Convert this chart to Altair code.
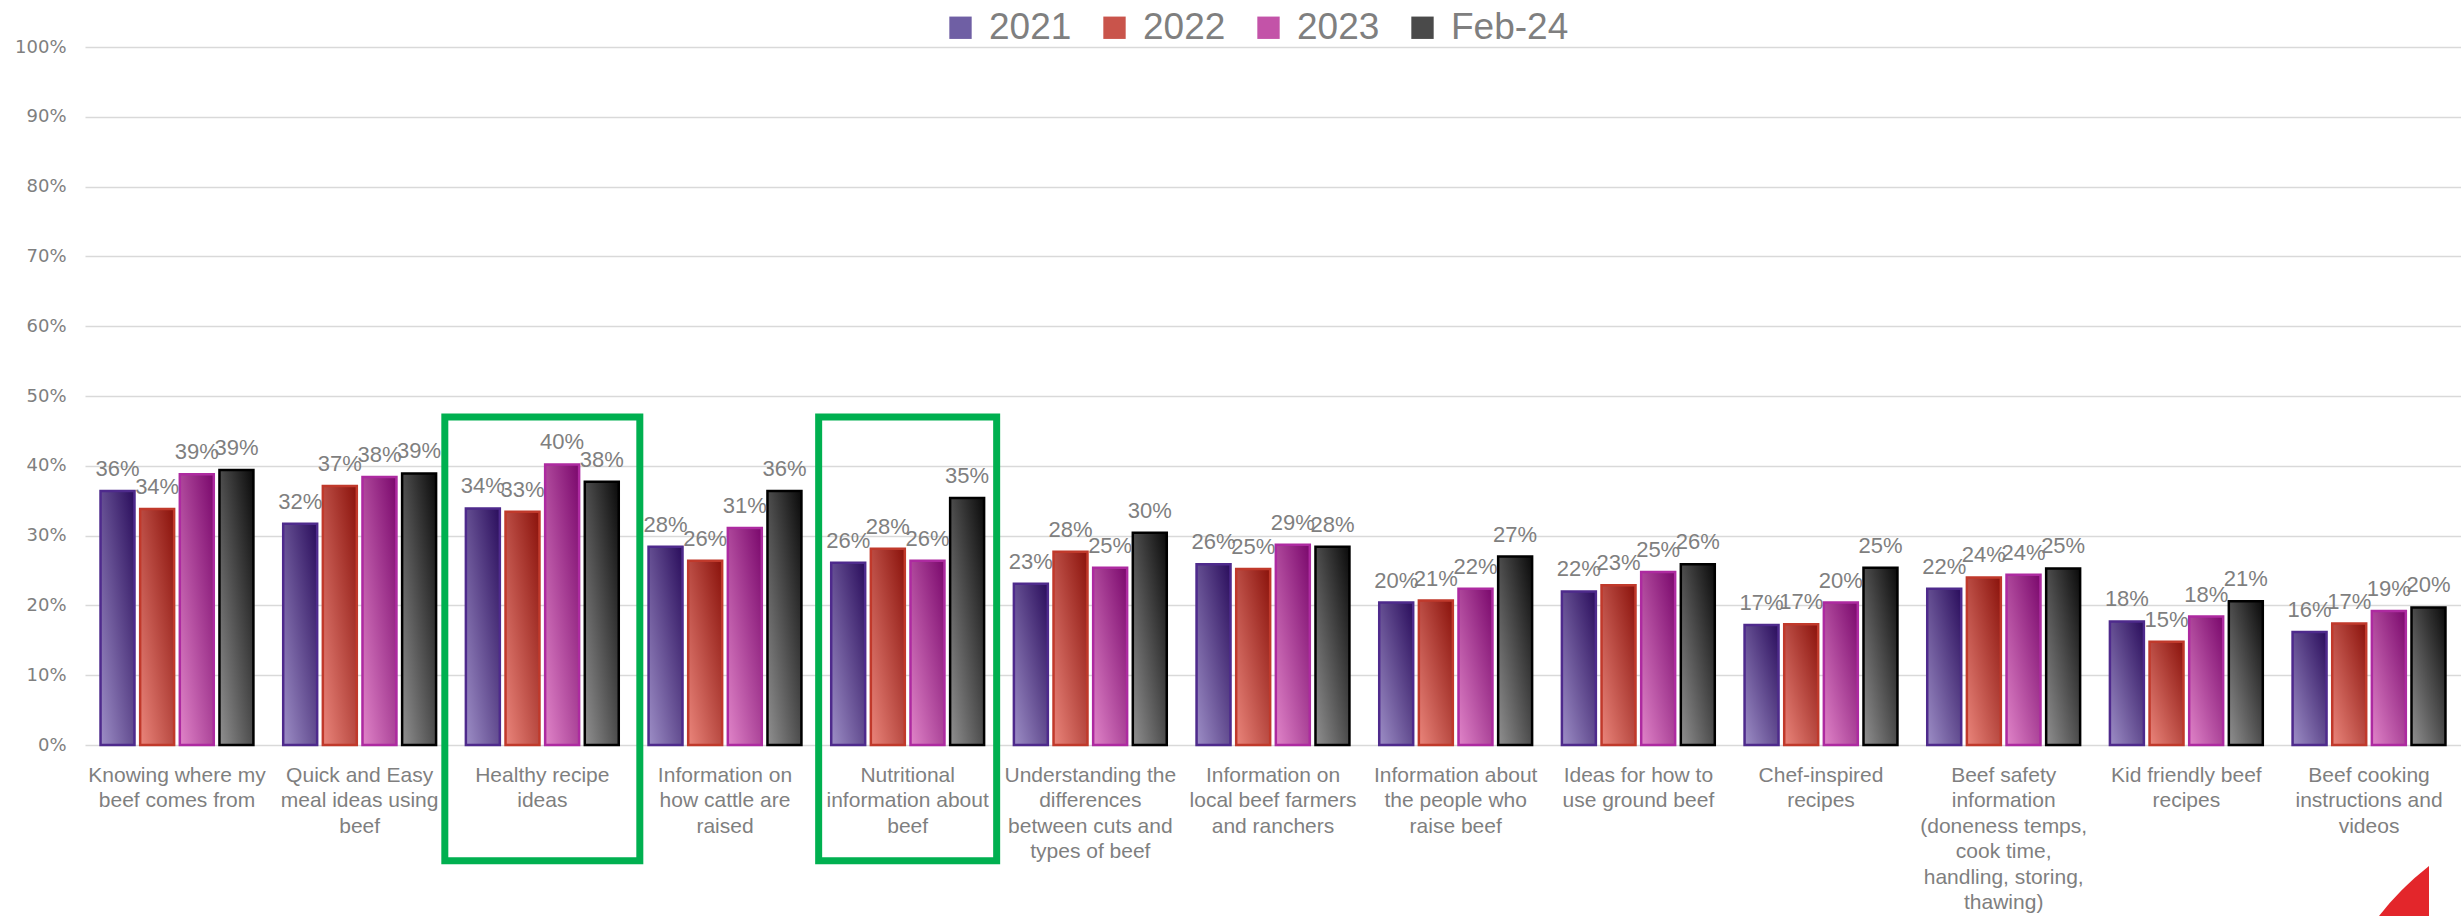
import altair as alt
import pandas as pd

categories = [
    "Knowing where my|beef comes from",
    "Quick and Easy|meal ideas using|beef",
    "Healthy recipe|ideas",
    "Information on|how cattle are|raised",
    "Nutritional|information about|beef",
    "Understanding the|differences|between cuts and|types of beef",
    "Information on|local beef farmers|and ranchers",
    "Information about|the people who|raise beef",
    "Ideas for how to|use ground beef",
    "Chef-inspired|recipes",
    "Beef safety|information|(doneness temps,|cook time,|handling, storing,|thawing)",
    "Kid friendly beef|recipes",
    "Beef cooking|instructions and|videos",
]
series = ["2021", "2022", "2023", "Feb-24"]
v2021 = [36.4, 31.7, 33.9, 28.4, 26.1, 23.1, 25.9, 20.4, 22.0, 17.2, 22.4, 17.7, 16.2]
v2022 = [33.8, 37.1, 33.4, 26.4, 28.1, 27.7, 25.2, 20.7, 22.9, 17.3, 24.0, 14.8, 17.4]
v2023 = [38.8, 38.4, 40.2, 31.1, 26.4, 25.4, 28.7, 22.4, 24.8, 20.4, 24.4, 18.4, 19.2]
vfeb24 = [39.4, 38.9, 37.7, 36.4, 35.4, 30.4, 28.4, 27.0, 25.9, 25.4, 25.3, 20.6, 19.7]
highlight_wide = ["Healthy recipe|ideas"]
highlight_narrow = ["Nutritional|information about|beef"]

values = {"2021": v2021, "2022": v2022, "2023": v2023, "Feb-24": vfeb24}
rows = []
for s in series:
    for c, v in zip(categories, values[s]):
        rows.append({"category": c, "series": s, "value": v / 100.0})
df = pd.DataFrame(rows)

# styles
grad_light = {"2021": "#9d8ec6", "2022": "#ea857b", "2023": "#e084c8", "Feb-24": "#909090"}
grad_dark = {"2021": "#2a0d5c", "2022": "#8a120b", "2023": "#7a086c", "Feb-24": "#0a0a0a"}
borders = {"2021": "#4e2a8c", "2022": "#c0392b", "2023": "#ad2aa0", "Feb-24": "#000000"}
legend_mid = ["#6f5fa4", "#c9544b", "#c353a8", "#4a4a4a"]

LABEL_FONT = "Liberation Sans, Arial, sans-serif"
GRAY = "#7f7f7f"

x_enc = alt.X(
    "category:N",
    sort=categories,
    scale=alt.Scale(domain=categories, paddingInner=0.163, paddingOuter=0.085),
    axis=alt.Axis(
        title=None,
        labelAngle=0,
        labelExpr="split(datum.label, '|')",
        labelFont=LABEL_FONT,
        labelFontSize=21,
        labelColor=GRAY,
        labelLineHeight=25.5,
        labelPadding=19,
        ticks=False,
        tickSize=0,
        domain=False,
        grid=False,
        labelLimit=400,
    ),
)
xo_enc = alt.XOffset(
    "series:N",
    sort=series,
    scale=alt.Scale(domain=series, paddingInner=0.143, paddingOuter=0),
)
y_enc = alt.Y(
    "value:Q",
    scale=alt.Scale(domain=[0, 1], nice=False, zero=True),
    axis=alt.Axis(
        title=None,
        format=".0%",
        values=[0, 0.1, 0.2, 0.3, 0.4, 0.5, 0.6, 0.7, 0.8, 0.9, 1.0],
        labelFont="DejaVu Sans, Verdana, sans-serif",
        labelFontSize=18,
        labelColor=GRAY,
        labelPadding=19,
        ticks=False,
        tickSize=0,
        domain=False,
        grid=True,
        gridColor="#d9d9d9",
        gridWidth=1.6,
    ),
)

base = alt.Chart(df)

legend_layer = base.mark_bar(opacity=0).encode(
    x=x_enc,
    xOffset=xo_enc,
    y=y_enc,
    color=alt.Color(
        "series:N",
        sort=series,
        scale=alt.Scale(domain=series, range=legend_mid),
        legend=alt.Legend(
            title=None,
            orient="none",
            direction="horizontal",
            legendX=857,
            legendY=-38,
            symbolType="square",
            symbolSize=500,
            symbolOpacity=1,
            symbolStrokeWidth=0,
            labelFont=LABEL_FONT,
            labelFontSize=37,
            labelColor=GRAY,
            labelOffset=10,
            columnPadding=24,
            padding=0,
            labelLimit=300,
        ),
    ),
)

bar_layers = []
for s in series:
    grad = alt.LinearGradient(
        gradient="linear",
        stops=[
            alt.GradientStop(color=grad_light[s], offset=0),
            alt.GradientStop(color=grad_dark[s], offset=1),
        ],
        x1=0, y1=1, x2=1, y2=0,
    )
    bar_layers.append(
        base.transform_filter(alt.datum.series == s)
        .mark_bar(fill=grad, stroke=borders[s], strokeWidth=2.5)
        .encode(x=x_enc, xOffset=xo_enc, y=y_enc)
    )

text_layer = base.transform_calculate(
    label="format(datum.value, '.0%')"
).mark_text(
    dy=-15, baseline="alphabetic", fontSize=22, font=LABEL_FONT, color=GRAY
).encode(x=x_enc, xOffset=xo_enc, y=y_enc, text="label:N")

box_wide = alt.Chart(pd.DataFrame({"category": highlight_wide})).mark_bar(
    width=195, fill="transparent", stroke="#00b050", strokeWidth=7
).encode(x=x_enc, y=alt.datum(0.47), y2=alt.datum(-0.166))

box_narrow = alt.Chart(pd.DataFrame({"category": highlight_narrow})).mark_bar(
    width=178, fill="transparent", stroke="#00b050", strokeWidth=7
).encode(x=x_enc, y=alt.datum(0.47), y2=alt.datum(-0.166))

logo = alt.Chart(pd.DataFrame({"k": [0]})).mark_point(
    shape="M 1 -1 L 1 1 L -1 1 Q -0.15 -0.1 1 -1 Z",
    filled=True, color="#e3262b", opacity=1, size=2500, strokeWidth=0,
).encode(x=alt.value(2319), y=alt.value(844))

chart = alt.layer(
    legend_layer, *bar_layers, text_layer, box_wide, box_narrow, logo
).properties(
    width=2376,
    height=698,
    autosize=alt.AutoSizeParams(type="none"),
    padding={"left": 85, "top": 47, "right": 0, "bottom": 171},
    background="white",
).configure_view(stroke=None)

chart.save("out.html", embed_options={"renderer": "svg", "actions": False})
